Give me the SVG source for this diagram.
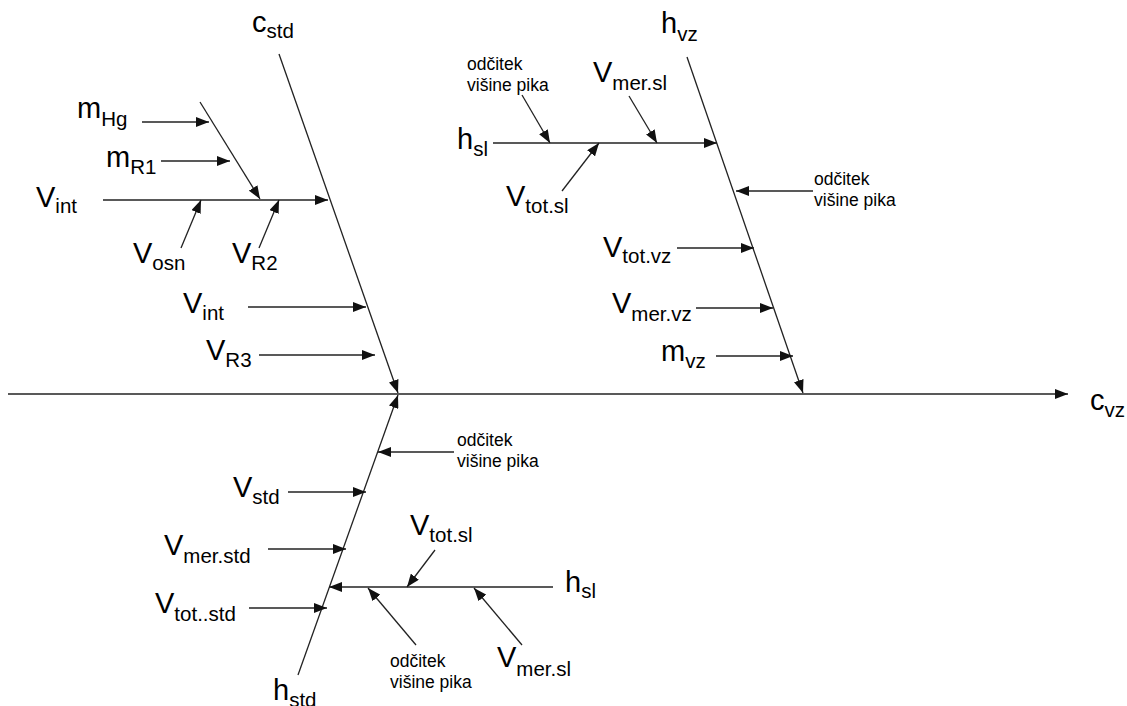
<svg xmlns="http://www.w3.org/2000/svg" width="1127" height="706" viewBox="0 0 1127 706">
<defs>
<marker id="ah" markerUnits="userSpaceOnUse" markerWidth="14" markerHeight="10" refX="13" refY="5" orient="auto">
<path d="M0,0 L13,5 L0,10 z" fill="#111"/>
</marker>
<style>
.c line{stroke:#222;stroke-width:1.3;fill:none}
.c .a{marker-end:url(#ah)}
text{font-family:"Liberation Sans",Arial,sans-serif;fill:#000}
.m{font-size:29px}
.s{font-size:20.5px}
.n{font-size:17.5px}
</style>
</defs>
<rect width="1127" height="706" fill="#fff"/>
<g class="c" id="connectors">
<line class="a" x1="8" y1="394" x2="1068" y2="394"/>
<line class="a" x1="279" y1="54" x2="398" y2="393"/>
<line class="a" x1="298" y1="675" x2="398" y2="395"/>
<line class="a" x1="687" y1="57" x2="803" y2="393"/>
<line class="a" x1="103" y1="200" x2="328" y2="200"/>
<line class="a" x1="200" y1="102" x2="260" y2="199"/>
<line class="a" x1="142" y1="122" x2="209" y2="122"/>
<line class="a" x1="161" y1="161" x2="230" y2="161"/>
<line class="a" x1="181" y1="248" x2="201" y2="200"/>
<line class="a" x1="259" y1="248" x2="279" y2="200"/>
<line class="a" x1="248" y1="307" x2="366" y2="307"/>
<line class="a" x1="259" y1="355" x2="375" y2="355"/>
<line class="a" x1="493" y1="143" x2="717" y2="143"/>
<line class="a" x1="522" y1="95" x2="550" y2="143"/>
<line class="a" x1="629" y1="96" x2="657" y2="143"/>
<line class="a" x1="562" y1="191" x2="599" y2="143"/>
<line class="a" x1="813" y1="191" x2="736" y2="191"/>
<line class="a" x1="677" y1="248" x2="754" y2="248"/>
<line class="a" x1="696" y1="308" x2="773" y2="308"/>
<line class="a" x1="716" y1="356" x2="793" y2="356"/>
<line class="a" x1="454" y1="452" x2="378" y2="452"/>
<line class="a" x1="288" y1="492" x2="366" y2="492"/>
<line class="a" x1="268" y1="549" x2="346" y2="549"/>
<line class="a" x1="553" y1="587" x2="329" y2="587"/>
<line class="a" x1="435" y1="550" x2="407" y2="587"/>
<line class="a" x1="249" y1="608" x2="327" y2="608"/>
<line class="a" x1="416" y1="645" x2="368" y2="588"/>
<line class="a" x1="522" y1="645" x2="474" y2="588"/>
</g>
<g id="c_std"><text x="252" y="32"><tspan class="m">c</tspan><tspan class="s" dy="6">std</tspan></text></g>
<g id="m_Hg"><text x="77" y="118"><tspan class="m">m</tspan><tspan class="s" dy="8">Hg</tspan></text></g>
<g id="m_R1"><text x="106" y="167"><tspan class="m">m</tspan><tspan class="s" dy="7">R1</tspan></text></g>
<g id="V_int1"><text x="36" y="207"><tspan class="m">V</tspan><tspan class="s" dy="6">int</tspan></text></g>
<g id="V_osn"><text x="133" y="263"><tspan class="m">V</tspan><tspan class="s" dy="7">osn</tspan></text></g>
<g id="V_R2"><text x="232" y="263"><tspan class="m">V</tspan><tspan class="s" dy="7">R2</tspan></text></g>
<g id="V_int2"><text x="183" y="313"><tspan class="m">V</tspan><tspan class="s" dy="7">int</tspan></text></g>
<g id="V_R3"><text x="206" y="360"><tspan class="m">V</tspan><tspan class="s" dy="7">R3</tspan></text></g>
<g id="h_vz"><text x="661" y="33"><tspan class="m">h</tspan><tspan class="s" dy="8">vz</tspan></text></g>
<g id="odcitek1"><text class="n" x="467" y="70">odčitek</text><text class="n" x="467" y="91">višine pika</text></g>
<g id="V_mer_sl1"><text x="593" y="82"><tspan class="m">V</tspan><tspan class="s" dy="8">mer.sl</tspan></text></g>
<g id="h_sl1"><text x="457" y="149"><tspan class="m">h</tspan><tspan class="s" dy="7">sl</tspan></text></g>
<g id="V_tot_sl1"><text x="506" y="206"><tspan class="m">V</tspan><tspan class="s" dy="7">tot.sl</tspan></text></g>
<g id="odcitek2"><text class="n" x="814" y="185">odčitek</text><text class="n" x="814" y="206">višine pika</text></g>
<g id="V_tot_vz"><text x="603" y="257"><tspan class="m">V</tspan><tspan class="s" dy="6">tot.vz</tspan></text></g>
<g id="V_mer_vz"><text x="612" y="313"><tspan class="m">V</tspan><tspan class="s" dy="8">mer.vz</tspan></text></g>
<g id="m_vz"><text x="661" y="361"><tspan class="m">m</tspan><tspan class="s" dy="7">vz</tspan></text></g>
<g id="c_vz"><text x="1090" y="410"><tspan class="m">c</tspan><tspan class="s" dy="7">vz</tspan></text></g>
<g id="odcitek3"><text class="n" x="457" y="446">odčitek</text><text class="n" x="457" y="467">višine pika</text></g>
<g id="V_std"><text x="233" y="497"><tspan class="m">V</tspan><tspan class="s" dy="7">std</tspan></text></g>
<g id="V_tot_sl2"><text x="410" y="535"><tspan class="m">V</tspan><tspan class="s" dy="7">tot.sl</tspan></text></g>
<g id="V_mer_std"><text x="164" y="555"><tspan class="m">V</tspan><tspan class="s" dy="8">mer.std</tspan></text></g>
<g id="h_sl2"><text x="565" y="592"><tspan class="m">h</tspan><tspan class="s" dy="6">sl</tspan></text></g>
<g id="V_tot_std"><text x="155" y="613"><tspan class="m">V</tspan><tspan class="s" dy="8">tot..std</tspan></text></g>
<g id="odcitek4"><text class="n" x="390" y="667">odčitek</text><text class="n" x="390" y="688">višine pika</text></g>
<g id="V_mer_sl2"><text x="497" y="667"><tspan class="m">V</tspan><tspan class="s" dy="9">mer.sl</tspan></text></g>
<g id="h_std"><text x="273" y="700"><tspan class="m">h</tspan><tspan class="s" dy="7">std</tspan></text></g>
</svg>
